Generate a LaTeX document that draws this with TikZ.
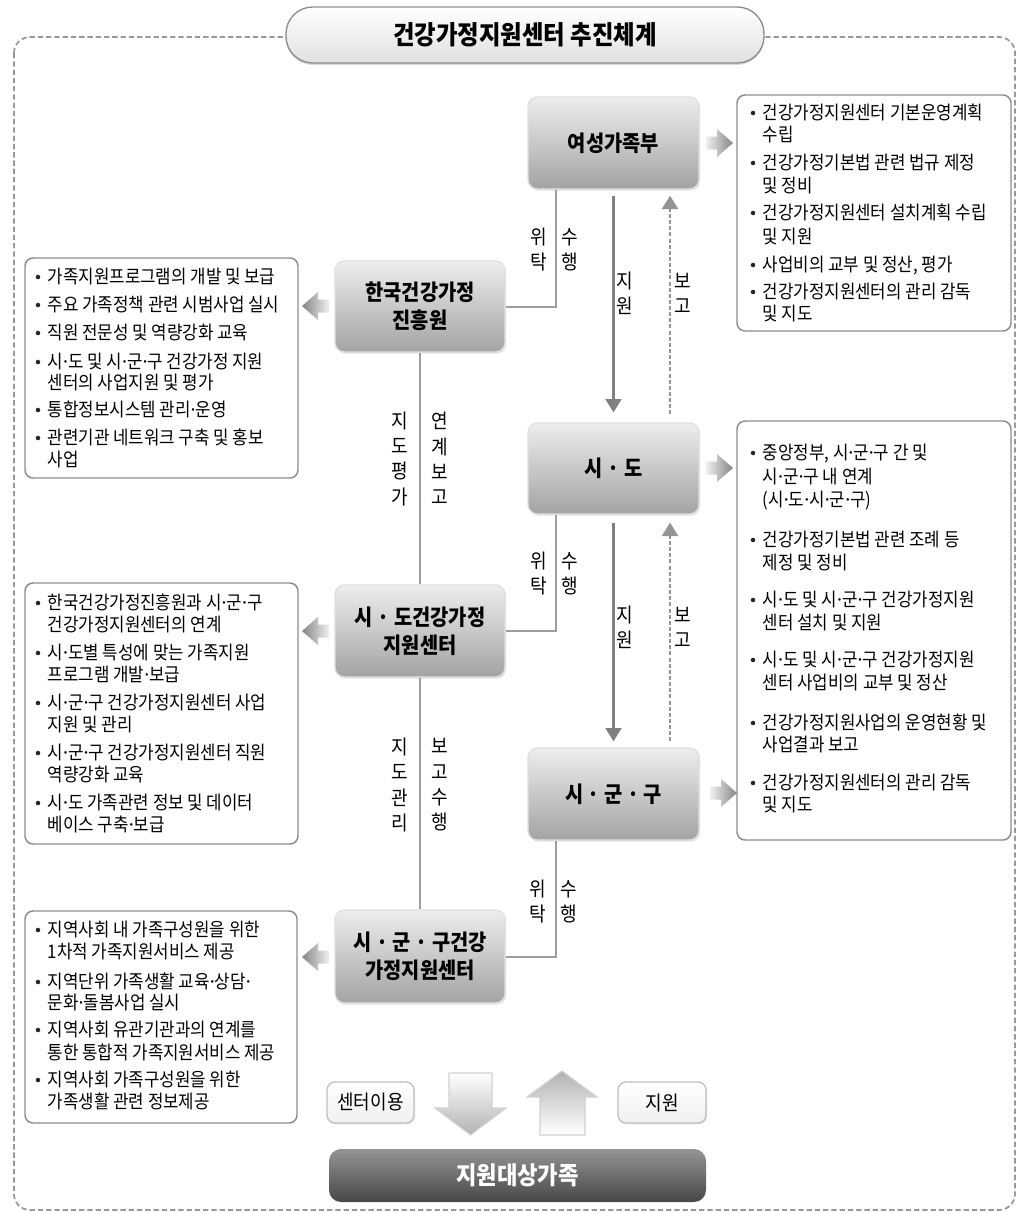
\documentclass[tikz,border=0pt]{standalone}
\usepackage{fontspec}
\usetikzlibrary{arrows.meta,shadows}
\newfontfamily\kr{Noto Sans CJK KR}[FakeStretch=0.9]
\newfontfamily\lat{Noto Sans}
\newcommand\md{{\lat ·}}
\newcount\lnc
\newcommand\bul[3]{\global\advance\lnc by 1
  \fill[black!85] (#1,#2) circle (1.7pt);
  \node[lt] (L\the\lnc) at ({#1+9.5},#2) {#3};}
\newcommand\cnt[3]{\global\advance\lnc by 1
  \node[lt] (L\the\lnc) at ({#1+9.5},#2) {#3};}
\newcommand\chevR[2]{\shade[left color=black!6, right color=black!48] (#1,{#2-6.5}) -- ({#1+11},{#2-6.5}) -- ({#1+11},{#2-14}) -- ({#1+27},#2) -- ({#1+11},{#2+14}) -- ({#1+11},{#2+6.5}) -- (#1,{#2+6.5}) -- cycle;}
\newcommand\chevL[2]{\shade[left color=black!48, right color=black!6] (#1,#2) -- ({#1+16},{#2-14}) -- ({#1+16},{#2-6.5}) -- ({#1+27},{#2-6.5}) -- ({#1+27},{#2+6.5}) -- ({#1+16},{#2+6.5}) -- ({#1+16},{#2+14}) -- cycle;}
\tikzset{
  lt/.style={anchor=west, inner sep=0pt, font=\kr\fontsize{14}{16}\selectfont, text height=11.3pt, text depth=1pt},
  vl/.style={align=center, inner sep=0pt, font=\kr\fontsize{15}{19}\selectfont},
  mbox/.style={rounded corners=7pt, top color=black!7, bottom color=black!36, draw=black!12, line width=1pt,
     align=center, font=\kr\bfseries\fontsize{16.5}{21}\selectfont, inner sep=0pt,
     drop shadow={opacity=0.22, shadow xshift=0.8pt, shadow yshift=-1.2pt}},
  lbox/.style={draw=black!45, line width=1.1pt, rounded corners=6pt, fill=white, inner sep=0pt},
  conn/.style={draw=black!38, line width=1.5pt},
  supp/.style={draw=black!50, line width=1.6pt, -{Triangle[width=12pt,length=10pt]}},
  rep/.style={draw=black!42, line width=1.5pt, dash pattern=on 3pt off 1.6pt, -{Triangle[width=12pt,length=10pt]}},
  frame/.style={draw=black!40, line width=1.3pt, dash pattern=on 4pt off 2.2pt, rounded corners=12pt},
  pill/.style={draw=black!45, line width=1pt, rounded corners=20pt, top color=white, bottom color=black!12,
     minimum width=358.5pt, minimum height=42pt, inner sep=0pt, font=\kr\bfseries\fontsize{19.5}{22}\selectfont,
     drop shadow={opacity=0.3, shadow xshift=0pt, shadow yshift=-1.5pt}},
  sbox/.style={draw=black!25, line width=1pt, rounded corners=6pt, top color=white, bottom color=black!6,
     inner sep=0pt, font=\kr\fontsize{15}{17}\selectfont,
     drop shadow={opacity=0.2, shadow xshift=0.8pt, shadow yshift=-1pt}},
  bar/.style={rounded corners=9pt, top color=black!42, bottom color=black!72, draw=none, text=white,
     inner sep=0pt, font=\kr\bfseries\fontsize{18.5}{21}\selectfont,
     minimum width=282.75pt, minimum height=39.75pt}
}
\begin{document}
\begin{tikzpicture}[x=0.75pt,y=-0.75pt]
\useasboundingbox (0,0) rectangle (1020,1213);
\fill[white] (0,0) rectangle (1020,1213);
% frame
\draw[frame] (14,37) rectangle (1015,1210);
\node[pill] (title) at (525,35) {건강가정지원센터 추진체계};

% list boxes
\node[lbox, minimum width=205.5pt, minimum height=177pt] (r1) at (874,213) {};
\node[lbox, minimum width=205.5pt, minimum height=314.25pt] (r2) at (874,630.5) {};
\node[lbox, minimum width=204.75pt, minimum height=165pt] (l1) at (161.5,368) {};
\node[lbox, minimum width=204.75pt, minimum height=195.75pt] (l2) at (161.5,713.5) {};
\node[lbox, minimum width=204pt, minimum height=159pt] (l3) at (161,1017) {};

% main boxes
\node[mbox, minimum width=128.25pt, minimum height=69pt] (ygb) at (613.5,143) {여성가족부};
\node[mbox, minimum width=128.25pt, minimum height=68.25pt] (sido) at (613.5,468.5) {시 · 도};
\node[mbox, minimum width=128.25pt, minimum height=69pt] (sgg) at (613.5,794) {시 · 군 · 구};
\node[mbox, minimum width=127.5pt, minimum height=68.25pt] (kihf) at (420,306.5) {한국건강가정\\진흥원};
\node[mbox, minimum width=127.5pt, minimum height=69pt] (sdc) at (420,631) {시 · 도건강가정\\지원센터};
\node[mbox, minimum width=127.5pt, minimum height=69.75pt] (sggc) at (420,956.5) {시 · 군 · 구건강\\가정지원센터};

% connectors
\draw[conn] ([xshift=-43.1pt]ygb.south) |- (kihf.east);
\draw[conn] ([xshift=-43.1pt]sido.south) |- (sdc.east);
\draw[conn] ([xshift=-43.1pt]sgg.south) |- (sggc.east);
\draw[conn] (kihf.south) -- (sdc.north);
\draw[conn] (sdc.south) -- (sggc.north);
\draw[supp] ([yshift=-4.5pt]ygb.south) -- ([yshift=7.5pt]sido.north);
\draw[supp] ([yshift=-6pt]sido.south) -- ([yshift=4.5pt]sgg.north);
\draw[rep] ([xshift=42.4pt,yshift=6pt]sido.north) -- ([xshift=42.4pt,yshift=-4.5pt]ygb.south);
\draw[rep] ([xshift=42.4pt,yshift=4.5pt]sgg.north) -- ([xshift=42.4pt,yshift=-6pt]sido.south);

% vertical labels
\node[vl] (v1) at (539,249.5) {위\\탁};
\node[vl] (v2) at (570,249.5) {수\\행};
\node[vl] (v3) at (625,293.5) {지\\원};
\node[vl] (v4) at (683,293.5) {보\\고};
\node[vl] (v5) at (400,458.5) {지\\도\\평\\가};
\node[vl] (v6) at (440,458.5) {연\\계\\보\\고};
\node[vl] (v7) at (539,573.5) {위\\탁};
\node[vl] (v8) at (570,573.5) {수\\행};
\node[vl] (v9) at (625,627.5) {지\\원};
\node[vl] (v10) at (683,627.5) {보\\고};
\node[vl] (v11) at (400,785) {지\\도\\관\\리};
\node[vl] (v12) at (440,785) {보\\고\\수\\행};
\node[vl] (v13) at (538,901.5) {위\\탁};
\node[vl] (v14) at (569,901.5) {수\\행};

% chevrons
\chevR{706}{143}
\chevR{706}{468}
\chevR{710}{793}
\chevL{302}{306}
\chevL{302}{631}
\chevL{302}{957}

% right list 1
\bul{753}{113}{건강가정지원센터 기본운영계획}
\cnt{753}{135}{수립}
\bul{753}{163}{건강가정기본법 관련 법규 제정}
\cnt{753}{186}{및 정비}
\bul{753}{213}{건강가정지원센터 설치계획 수립}
\cnt{753}{237}{및 지원}
\bul{753}{265}{사업비의 교부 및 정산, 평가}
\bul{753}{292}{건강가정지원센터의 관리 감독}
\cnt{753}{314}{및 지도}
% right list 2
\bul{753}{453}{중앙정부, 시\md 군\md 구 간 및}
\cnt{753}{477}{시\md 군\md 구 내 연계}
\cnt{753}{500}{(시\md 도\md 시\md 군\md 구)}
\bul{753}{540}{건강가정기본법 관련 조례 등}
\cnt{753}{563}{제정 및 정비}
\bul{753}{600}{시\md 도 및 시\md 군\md 구 건강가정지원}
\cnt{753}{623}{센터 설치 및 지원}
\bul{753}{660}{시\md 도 및 시\md 군\md 구 건강가정지원}
\cnt{753}{683}{센터 사업비의 교부 및 정산}
\bul{753}{723}{건강가정지원사업의 운영현황 및}
\cnt{753}{745}{사업결과 보고}
\bul{753}{783}{건강가정지원센터의 관리 감독}
\cnt{753}{805}{및 지도}
% left list 1
\bul{38}{277}{가족지원프로그램의 개발 및 보급}
\bul{38}{305}{주요 가족정책 관련 시범사업 실시}
\bul{38}{333}{직원 전문성 및 역량강화 교육}
\bul{38}{362}{시\md 도 및 시\md 군\md 구 건강가정 지원}
\cnt{38}{383}{센터의 사업지원 및 평가}
\bul{38}{410}{통합정보시스템 관리\md 운영}
\bul{38}{438}{관련기관 네트워크 구축 및 홍보}
\cnt{38}{460}{사업}
% left list 2
\bul{38}{603}{한국건강가정진흥원과 시\md 군\md 구}
\cnt{38}{625}{건강가정지원센터의 연계}
\bul{38}{653}{시\md 도별 특성에 맞는 가족지원}
\cnt{38}{675}{프로그램 개발\md 보급}
\bul{38}{703}{시\md 군\md 구 건강가정지원센터 사업}
\cnt{38}{725}{지원 및 관리}
\bul{38}{753}{시\md 군\md 구 건강가정지원센터 직원}
\cnt{38}{775}{역량강화 교육}
\bul{38}{803}{시\md 도 가족관련 정보 및 데이터}
\cnt{38}{825}{베이스 구축\md 보급}
% left list 3
\bul{38}{930}{지역사회 내 가족구성원을 위한}
\cnt{38}{952}{1차적 가족지원서비스 제공}
\bul{38}{982}{지역단위 가족생활 교육\md 상담\md}
\cnt{38}{1003}{문화\md 돌봄사업 실시}
\bul{38}{1030}{지역사회 유관기관과의 연계를}
\cnt{38}{1053}{통한 통합적 가족지원서비스 제공}
\bul{38}{1080}{지역사회 가족구성원을 위한}
\cnt{38}{1102}{가족생활 관련 정보제공}

% bottom part
\shade[top color=white, bottom color=black!30, draw=black!18, line width=0.8pt]
  (449,1073) -- (492,1073) -- (492,1108) -- (506,1108) -- (470.5,1135) -- (435,1108) -- (449,1108) -- cycle;
\shade[top color=black!30, bottom color=white, draw=black!18, line width=0.8pt]
  (540,1135) -- (540,1097) -- (527,1097) -- (562,1071) -- (597,1097) -- (585,1097) -- (585,1135) -- cycle;
\node[sbox, minimum width=65.25pt, minimum height=30.75pt] (use) at (370.5,1102.5) {센터이용};
\node[sbox, minimum width=66pt, minimum height=30.75pt] (supb) at (662,1102.5) {지원};
\node[bar] (fam) at (517.5,1175.5) {지원대상가족};
\end{tikzpicture}
\end{document}
